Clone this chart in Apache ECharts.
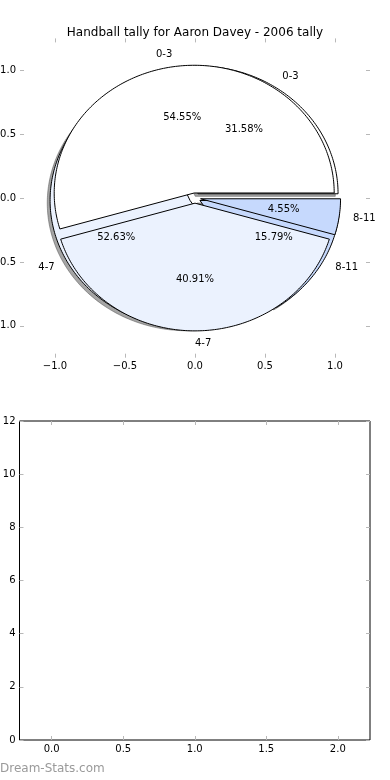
<!DOCTYPE html>
<html><head><meta charset="utf-8">
<script src="https://cdn.jsdelivr.net/npm/echarts@6/dist/echarts.min.js"></script>
<style>html,body{margin:0;padding:0;background:#fff}#c{width:390px;height:780px}</style>
</head><body><div id="c"></div>
<script>
const chartTitle = 'Handball tally for Aaron Davey - 2006 tally';
const categories = ['0-3', '4-7', '8-11'];
const shadowPieCounts = [6, 10, 3];   // pie drawn first, with shadow (31.58 / 52.63 / 15.79 %)
const topPieCounts = [12, 9, 1];      // pie drawn on top (54.55 / 40.91 / 4.55 %)
const sliceColors = ['#ffffff', '#ebf2fe', '#c6d9fd'];
const pieXTicks = [-1, -0.5, 0, 0.5, 1];
const pieYTicks = [-1, -0.5, 0, 0.5, 1];
const lowerXTicks = [0, 0.5, 1, 1.5, 2];
const lowerYTicks = [0, 2, 4, 6, 8, 10, 12];
const watermark = 'Dream-Stats.com';

const EXPLODE = 0.04;
const FONT = 'DejaVu Sans';

function wedges(counts) {
  const tot = counts.reduce((a, b) => a + b, 0);
  let acc = 0;
  return counts.map((v, i) => {
    const f1 = acc / tot; acc += v; const f2 = acc / tot;
    const t1 = 2 * Math.PI * f1, t2 = 2 * Math.PI * f2, tm = (t1 + t2) / 2;
    return { i, t1, t2, tm, cx: EXPLODE * Math.cos(tm), cy: EXPLODE * Math.sin(tm), pct: 100 * v / tot };
  });
}
const WA = wedges(shadowPieCounts);
const WB = wedges(topPieCounts);

function wedgePoly(w, api, dx, dy, fill, stroke) {
  const ox = w.cx + dx, oy = w.cy + dy;
  const pts = [api.coord([ox, oy])];
  const n = Math.max(6, Math.ceil((w.t2 - w.t1) / (Math.PI / 180)));
  for (let k = 0; k <= n; k++) {
    const t = w.t1 + (w.t2 - w.t1) * k / n;
    pts.push(api.coord([ox + Math.cos(t), oy + Math.sin(t)]));
  }
  return { type: 'polygon', shape: { points: pts }, style: { fill: fill, stroke: stroke, lineWidth: 1, lineJoin: 'round' } };
}

function labelItems(w, api) {
  const lx = w.cx + 1.1 * Math.cos(w.tm), ly = w.cy + 1.1 * Math.sin(w.tm);
  const px = w.cx + 0.6 * Math.cos(w.tm), py = w.cy + 0.6 * Math.sin(w.tm);
  const p1 = api.coord([lx, ly]), p2 = api.coord([px, py]);
  return {
    type: 'group',
    children: [
      { type: 'text', x: p1[0], y: p1[1], style: { text: categories[w.i], fill: '#000', font: '10px "' + FONT + '"', align: lx >= -1e-9 ? 'left' : 'right', verticalAlign: 'middle' } },
      { type: 'text', x: p2[0], y: p2[1], style: { text: w.pct.toFixed(2) + '%', fill: '#000', font: '10px "' + FONT + '"', align: 'center', verticalAlign: 'middle' } }
    ]
  };
}

const fmt1 = v => (v < 0 ? '\u2212' : '') + Math.abs(v).toFixed(1);
const tickStyle = { show: true, inside: true, length: 4, lineStyle: { color: '#b8b8b8', width: 1 } };
const lblStyle = { color: '#000', fontSize: 10, fontFamily: FONT };

function valAxis(gridIndex, pos, min, max, ticks, showLabel, formatter, margin) {
  return {
    type: 'value', gridIndex, position: pos, min, max,
    axisLine: { show: false, onZero: false },
    splitLine: { show: false },
    axisTick: Object.assign({ customValues: ticks }, tickStyle),
    axisLabel: Object.assign({ show: showLabel, customValues: ticks, formatter: formatter, margin: margin, hideOverlap: false }, lblStyle)
  };
}

const chart = echarts.init(document.getElementById('c'), null, { renderer: 'canvas' });
const idx = categories.map((c, i) => [i, i]);

chart.setOption({
  animation: false,
  backgroundColor: '#fff',
  title: {
    text: chartTitle, left: 'center', top: 22,
    textStyle: { fontSize: 12, fontWeight: 'normal', color: '#000', fontFamily: FONT }
  },
  grid: [
    { left: 20, top: 38.4, width: 350, height: 319.3, show: false, containLabel: false, outerBoundsMode: 'none' },
    { left: 19.5, top: 421, width: 350.5, height: 319, show: true, borderColor: '#000', borderWidth: 1, backgroundColor: 'transparent', containLabel: false, outerBoundsMode: 'none' }
  ],
  xAxis: [
    valAxis(0, 'bottom', -1.25, 1.25, pieXTicks, true, fmt1, 4),
    valAxis(0, 'top', -1.25, 1.25, pieXTicks, false, fmt1, 4),
    valAxis(1, 'bottom', -0.225, 2.225, lowerXTicks, true, fmt1, 4),
    valAxis(1, 'top', -0.225, 2.225, lowerXTicks, false, fmt1, 4)
  ],
  yAxis: [
    valAxis(0, 'left', -1.25, 1.25, pieYTicks, true, fmt1, 4),
    valAxis(0, 'right', -1.25, 1.25, pieYTicks, false, fmt1, 4),
    valAxis(1, 'left', 0, 12, lowerYTicks, true, v => String(v), 4),
    valAxis(1, 'right', 0, 12, lowerYTicks, false, v => String(v), 4)
  ],
  series: [
    {
      type: 'custom', xAxisIndex: 0, yAxisIndex: 0, z: 1, silent: true, clip: false, data: idx,
      renderItem: (params, api) => {
        const w = WA[params.dataIndex];
        return wedgePoly(w, api, -0.02, -0.02, 'rgba(76,76,76,0.5)', 'rgba(76,76,76,0.5)');
      }
    },
    {
      type: 'custom', xAxisIndex: 0, yAxisIndex: 0, z: 2, silent: true, clip: false, data: idx,
      renderItem: (params, api) => {
        const w = WA[params.dataIndex];
        return wedgePoly(w, api, 0, 0, sliceColors[w.i], '#000');
      }
    },
    {
      type: 'custom', xAxisIndex: 0, yAxisIndex: 0, z: 3, silent: true, clip: false, data: idx,
      renderItem: (params, api) => {
        const w = WB[params.dataIndex];
        return wedgePoly(w, api, 0, 0, sliceColors[w.i], '#000');
      }
    },
    {
      type: 'custom', xAxisIndex: 0, yAxisIndex: 0, z: 4, silent: true, clip: false, data: idx,
      renderItem: (params, api) => labelItems(WA[params.dataIndex], api)
    },
    {
      type: 'custom', xAxisIndex: 0, yAxisIndex: 0, z: 4, silent: true, clip: false, data: idx,
      renderItem: (params, api) => labelItems(WB[params.dataIndex], api)
    }
  ],
  graphic: [
    { type: 'text', left: 0, top: 763, style: { text: watermark, fill: '#9a9a9a', font: '12px "' + FONT + '"' } }
  ]
});
</script></body></html>
